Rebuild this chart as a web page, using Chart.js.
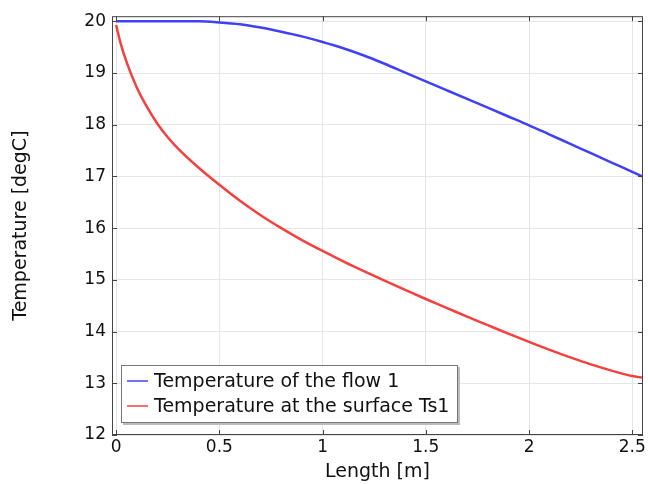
<!DOCTYPE html>
<html>
<head>
<meta charset="utf-8">
<script src="https://cdn.jsdelivr.net/npm/chart.js@4"></script>
<style>
  html, body { margin: 0; padding: 0; background: #fff; }
  #wrap { width: 648px; height: 484px; }
</style>
</head>
<body>
<div id="wrap"><canvas id="tempChart" width="648" height="484"></canvas></div>
<script>
// Temperature along the pipe length
const lengths = [0, 0.02, 0.05, 0.1, 0.15, 0.2, 0.25, 0.3, 0.4, 0.5, 0.6, 0.7, 0.8, 0.9, 1.0,
    1.1, 1.2, 1.3, 1.4, 1.5, 1.6, 1.7, 1.8, 1.9, 2.0, 2.1, 2.2, 2.3, 2.4, 2.5, 2.55];
const flowTemp = [20.0, 20.0, 20.0, 20.0, 20.0, 20.0, 20.0, 20.0, 20.0, 19.98, 19.945, 19.88, 19.80, 19.71, 19.60,
    19.48, 19.34, 19.18, 19.01, 18.84, 18.67, 18.50, 18.33, 18.16, 17.99, 17.81, 17.63, 17.45, 17.27, 17.09, 17.0];
const surfaceTemp = [19.93, 19.6, 19.22, 18.72, 18.34, 18.02, 17.76, 17.54, 17.17, 16.84, 16.53, 16.25, 16.00, 15.77, 15.56,
    15.36, 15.17, 14.985, 14.805, 14.63, 14.46, 14.29, 14.125, 13.96, 13.80, 13.645, 13.50, 13.365, 13.245, 13.14, 13.11];
const seriesLabels = ['Temperature of the flow 1', 'Temperature at the surface Ts1'];
const xTicks = [0, 0.5, 1, 1.5, 2, 2.5];
const yTicks = [12, 13, 14, 15, 16, 17, 18, 19, 20];

const FONT = 'DejaVu Sans';
const textColor = '#111';
const seriesColors = ['rgb(64,64,250)', 'rgb(245,64,64)'];

const toPoints = ys => lengths.map((x, i) => ({ x, y: ys[i] }));

// frame, inward ticks and legend inside the plot
const framePlugin = {
    id: 'frame',
    afterDraw(chart) {
        const { ctx, chartArea: a, scales } = chart;
        ctx.save();
        ctx.strokeStyle = '#444';
        ctx.lineWidth = 1;
        ctx.strokeRect(a.left + 0.5, a.top + 0.5, a.right - a.left - 1, a.bottom - a.top - 1);
        ctx.beginPath();
        xTicks.forEach(v => {
            const px = Math.round(scales.x.getPixelForValue(v)) + 0.5;
            ctx.moveTo(px, a.bottom); ctx.lineTo(px, a.bottom - 5);
            ctx.moveTo(px, a.top); ctx.lineTo(px, a.top + 5);
        });
        yTicks.forEach(v => {
            const py = Math.round(scales.y.getPixelForValue(v)) + 0.5;
            ctx.moveTo(a.left, py); ctx.lineTo(a.left + 5, py);
            ctx.moveTo(a.right, py); ctx.lineTo(a.right - 5, py);
        });
        ctx.stroke();

        // legend box
        const bx = 121, by = 365, bw = 337, bh = 58;
        ctx.fillStyle = '#bbb';
        ctx.fillRect(bx + 2, by + 2, bw, bh);
        ctx.fillStyle = '#fff';
        ctx.fillRect(bx, by, bw, bh);
        ctx.strokeStyle = '#777';
        ctx.strokeRect(bx + 0.5, by + 0.5, bw - 1, bh - 1);
        ctx.font = '19px "' + FONT + '"';
        ctx.textBaseline = 'middle';
        ctx.fillStyle = textColor;
        chart.data.datasets.forEach((ds, i) => {
            const ly = by + 16 + i * 25;
            ctx.strokeStyle = ds.borderColor;
            ctx.lineWidth = 1.5;
            ctx.beginPath();
            ctx.moveTo(127, ly); ctx.lineTo(148, ly);
            ctx.stroke();
            ctx.fillText(ds.label, 154, ly + 1);
        });
        ctx.restore();
    }
};

new Chart(document.getElementById('tempChart'), {
    type: 'line',
    plugins: [framePlugin],
    data: {
        datasets: [
            { label: seriesLabels[0], data: toPoints(flowTemp), borderColor: seriesColors[0] },
            { label: seriesLabels[1], data: toPoints(surfaceTemp), borderColor: seriesColors[1] }
        ].map(ds => ({ ...ds, borderWidth: 2.5, pointRadius: 0, fill: false, cubicInterpolationMode: 'monotone' }))
    },
    options: {
        responsive: false,
        animation: false,
        layout: { padding: { top: 9, right: 5, left: 0, bottom: 0 } },
        plugins: { legend: { display: false }, tooltip: { enabled: false } },
        scales: {
            x: {
                type: 'linear',
                min: -0.02,
                max: 2.552,
                afterBuildTicks: s => { s.ticks = xTicks.map(v => ({ value: v })); },
                afterFit: s => { s.height = 49; },
                ticks: { color: textColor, font: { family: FONT, size: 17 }, padding: 2, maxRotation: 0,
                    callback: v => String(v) },
                grid: { color: '#e6e6e6', drawTicks: false },
                border: { display: false },
                title: { display: true, text: 'Length [m]', color: textColor,
                    font: { family: FONT, size: 19 }, padding: { top: 0, bottom: 1 } }
            },
            y: {
                min: 12,
                max: 20.1,
                afterBuildTicks: s => { s.ticks = yTicks.map(v => ({ value: v })); },
                afterFit: s => { s.width = 112; },
                ticks: { color: textColor, font: { family: FONT, size: 17 }, padding: 6 },
                grid: { color: '#e6e6e6', drawTicks: false },
                border: { display: false },
                title: { display: true, text: 'Temperature [degC]', color: textColor,
                    font: { family: FONT, size: 19 }, padding: { top: 10, bottom: 0 } }
            }
        }
    }
});
</script>
</body>
</html>
